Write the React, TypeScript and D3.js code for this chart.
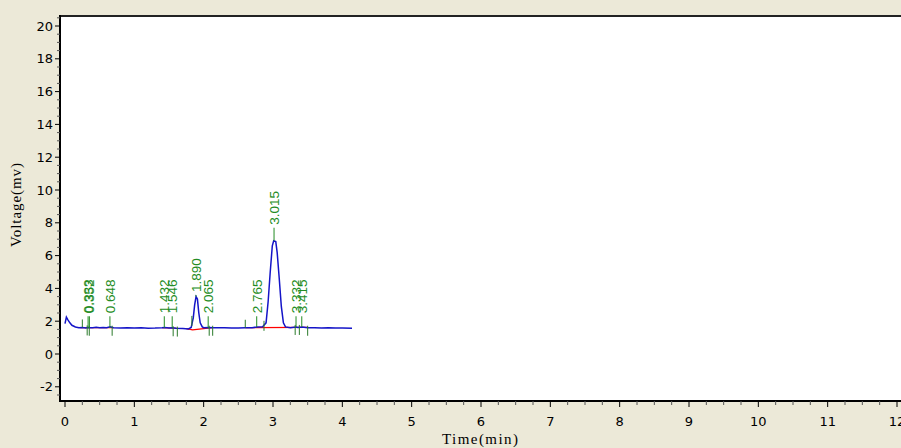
import React from "react";
import * as d3 from "d3";

const W = 901;
const H = 448;

// chromatogram trace [time(min), voltage(mv)]
const traceTime = [0.0, 0.02, 0.04, 0.07, 0.1, 0.15, 0.2, 0.25, 0.3, 0.33, 0.35, 0.4, 0.45, 0.5, 0.55, 0.6, 0.65, 0.7, 0.8, 0.9, 1.0, 1.1, 1.2, 1.3, 1.4, 1.44, 1.5, 1.55, 1.6, 1.7, 1.78, 1.82, 1.85, 1.87, 1.89, 1.91, 1.93, 1.95, 1.98, 2.0, 2.07, 2.15, 2.3, 2.4, 2.5, 2.6, 2.7, 2.77, 2.85, 2.9, 2.93, 2.96, 2.99, 3.01, 3.04, 3.06, 3.09, 3.12, 3.15, 3.18, 3.25, 3.33, 3.36, 3.42, 3.5, 3.6, 3.7, 3.8, 3.9, 4.0, 4.14];
const traceVolt = [1.85, 2.25, 2.1, 1.9, 1.75, 1.65, 1.6, 1.62, 1.58, 1.62, 1.6, 1.6, 1.63, 1.6, 1.61, 1.6, 1.66, 1.6, 1.58, 1.6, 1.58, 1.6, 1.57, 1.58, 1.6, 1.62, 1.58, 1.6, 1.57, 1.55, 1.53, 1.62, 2.2, 3.0, 3.5, 3.35, 2.5, 1.9, 1.65, 1.6, 1.62, 1.6, 1.6, 1.59, 1.58, 1.6, 1.6, 1.65, 1.66, 1.9, 3.2, 5.0, 6.6, 6.9, 6.85, 6.2, 4.6, 2.9, 1.9, 1.65, 1.6, 1.65, 1.62, 1.65, 1.6, 1.6, 1.58, 1.6, 1.58, 1.58, 1.57];

// peak labels (retention times), apex voltages and marker tops (mv)
const peakTimes = [0.333, 0.352, 0.648, 1.432, 1.546, 1.89, 2.065, 2.765, 3.015, 3.332, 3.415];
const peakApex = [1.6, 1.6, 1.6, 1.6, 1.6, 3.5, 1.6, 1.65, 6.9, 1.65, 1.65];
const peakMarkTop = [2.3, 2.3, 2.3, 2.3, 2.3, 3.6, 2.3, 2.3, 7.7, 2.3, 2.3];
const peakLabels = ["0.333", "0.352", "0.648", "1.432", "1.546", "1.890", "2.065", "2.765", "3.015", "3.332", "3.415"];

// peak boundary markers (drawn below the baseline)
const boundaryTimes = [0.32, 0.35, 0.68, 1.56, 1.62, 1.83, 2.08, 2.13, 2.87, 3.32, 3.38, 3.5];
// extra short markers above baseline
const extraTimes = [0.25, 2.6];

// integration baselines (red)
const baseSegments: [number, number][][] = [
  [[0.22, 1.6], [0.7, 1.6]],
  [[1.4, 1.6], [1.62, 1.57]],
  [[1.75, 1.55], [1.84, 1.47], [2.0, 1.55], [2.12, 1.6]],
  [[2.6, 1.6], [3.5, 1.62]],
];

const xTicks = [0, 1, 2, 3, 4, 5, 6, 7, 8, 9, 10, 11, 12];
const yTicks = [-2, 0, 2, 4, 6, 8, 10, 12, 14, 16, 18, 20];

export default function App() {
  const x = d3.scaleLinear().domain([0, 12]).range([65, 897]);
  const y = d3.scaleLinear().domain([0, 20]).range([354, 26]);

  const plotL = 60, plotT = 16, plotB = 401;

  const line = d3
    .line<number>()
    .x((_, i) => x(traceTime[i]))
    .y((d) => y(d));
  const segLine = d3
    .line<[number, number]>()
    .x((d) => x(d[0]))
    .y((d) => y(d[1]));

  const interpV = (t: number) => {
    const i = d3.bisector((d: number) => d).left(traceTime, t);
    const j = Math.min(Math.max(i, 0), traceTime.length - 1);
    return traceVolt[j];
  };

  const minorX = d3.range(0, 12.01, 0.25).filter((t) => Math.abs(t - Math.round(t)) > 0.01);
  const minorY = d3.range(-2.5, 20.51, 0.5).filter((v) => Math.abs(v / 2 - Math.round(v / 2)) > 0.01);

  const tickFont = "Tahoma, 'DejaVu Sans', 'Liberation Sans', Arial, sans-serif";
  const labelFont = "'Liberation Sans', Arial, sans-serif";
  const green = "#238c23";

  return (
    <svg width={W} height={H} style={{ position: "absolute", left: 0, top: 0 }}>
      <rect x={0} y={0} width={W} height={H} fill="#ECE9D8" />
      <rect x={plotL} y={plotT} width={W - plotL + 5} height={plotB - plotT} fill="#ffffff" />

      <defs>
        <clipPath id="plotclip">
          <rect x={plotL + 1} y={plotT + 1} width={W} height={plotB - plotT - 2} />
        </clipPath>
      </defs>

      <g clipPath="url(#plotclip)">
        {baseSegments.map((s, i) => (
          <path key={"b" + i} d={segLine(s) || ""} fill="none" stroke="#ff0000" strokeWidth={1.2} />
        ))}
        <path d={line(traceVolt) || ""} fill="none" stroke="#1414c8" strokeWidth={1.5} />

        {boundaryTimes.map((t, i) => (
          <line key={"bd" + i} x1={x(t)} x2={x(t)} y1={y(interpV(t)) - 2} y2={y(interpV(t)) + 8} stroke="#2a7a2a" strokeWidth={1} />
        ))}
        {extraTimes.map((t, i) => (
          <line key={"ex" + i} x1={x(t)} x2={x(t)} y1={y(interpV(t)) - 8} y2={y(interpV(t))} stroke="#2a7a2a" strokeWidth={1} />
        ))}

        {peakTimes.map((t, i) => {
          const px = x(t);
          const top = y(peakMarkTop[i]);
          return (
            <g key={"p" + i}>
              <line x1={px} x2={px} y1={y(peakApex[i])} y2={top} stroke={green} strokeWidth={1} />
              <text
                transform={`translate(${px + 5},${top - 3}) rotate(-90)`}
                fontFamily={labelFont}
                fontSize={13.5}
                fill={green}
                textAnchor="start"
              >
                {peakLabels[i]}
              </text>
            </g>
          );
        })}
      </g>

      {/* borders */}
      <line x1={plotL} x2={W} y1={plotT} y2={plotT} stroke="#222" strokeWidth={2} />
      <line x1={plotL} x2={plotL} y1={plotT - 1} y2={plotB + 1} stroke="#000" strokeWidth={2} />
      <line x1={plotL - 1} x2={W} y1={plotB} y2={plotB} stroke="#000" strokeWidth={2} />

      {/* y axis ticks */}
      {yTicks.map((v) => (
        <g key={"y" + v}>
          <line x1={plotL - 5} x2={plotL} y1={y(v)} y2={y(v)} stroke="#000" />
          <text x={plotL - 7} y={y(v) + 4.5} textAnchor="end" fontFamily={tickFont} fontSize={13} fill="#000">
            {v}
          </text>
        </g>
      ))}
      {minorY.map((v) => (
        <line key={"my" + v} x1={plotL - 3} x2={plotL} y1={y(v)} y2={y(v)} stroke="#555" />
      ))}

      {/* x axis ticks */}
      {xTicks.map((t) => (
        <g key={"x" + t}>
          <line x1={x(t)} x2={x(t)} y1={plotB} y2={plotB + 6} stroke="#000" />
          <text x={x(t)} y={plotB + 25} textAnchor="middle" fontFamily={tickFont} fontSize={13} fill="#000">
            {t}
          </text>
        </g>
      ))}
      {minorX.map((t) => (
        <line key={"mx" + t} x1={x(t)} x2={x(t)} y1={plotB} y2={plotB + 4} stroke="#555" />
      ))}

      {/* axis titles */}
      <text x={480} y={444} textAnchor="middle" fontFamily="'Liberation Serif', 'Times New Roman', serif" fontSize={15} textLength={76} fill="#000">
        Time(min)
      </text>
      <text
        transform={`translate(21,205) rotate(-90)`}
        textAnchor="middle"
        fontFamily="'Liberation Serif', 'Times New Roman', serif"
        fontSize={15}
        textLength={84}
        fill="#000"
      >
        Voltage(mv)
      </text>
    </svg>
  );
}
